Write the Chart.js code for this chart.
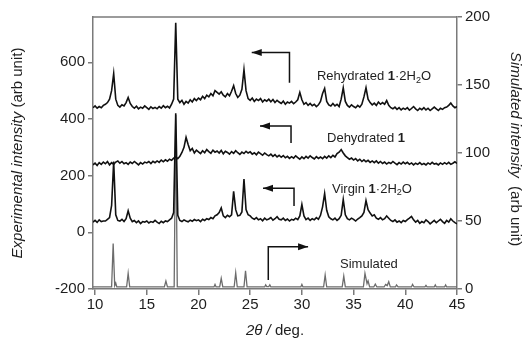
<!DOCTYPE html>
<html>
<head>
<meta charset="utf-8">
<script src="https://cdn.jsdelivr.net/npm/chart.js@4.4.0/dist/chart.umd.min.js"></script>
<style>
  body { margin: 0; background: #fff; }
  #wrap { width: 530px; height: 344px; }
</style>
</head>
<body>
<div id="wrap"><canvas id="xrd" width="530" height="344"></canvas></div>
<script>
// 2theta grid for the measured patterns
const twoThetaStart = 9.8;
const twoThetaStep = 0.2;

// measured patterns (left axis, arb unit), one row per degree
const rehydrated = [440,
  446, 438, 444, 440, 448,
  452, 458, 470, 500, 560,
  470, 448, 442, 450, 446,
  458, 476, 455, 444, 438,
  445, 436, 442, 438, 446,
  440, 434, 443, 437, 441,
  436, 444, 438, 447, 440,
  445, 439, 452, 470, 740,
  470, 458, 466, 452, 462,
  456, 468, 460, 472, 465,
  474, 468, 480, 472, 484,
  478, 490, 482, 500, 494,
  488, 496, 484, 478, 490,
  482, 498, 518, 490, 476,
  484, 505, 574, 500, 472,
  466, 474, 462, 470, 465,
  472, 460, 468, 463, 470,
  461, 469, 458, 466, 460,
  455, 463, 452, 460, 456,
  462, 454, 460, 468, 494,
  468, 452, 458, 448, 455,
  447, 452, 444, 450, 462,
  490, 508, 462, 450, 446,
  455, 446, 452, 444, 470,
  510, 462, 448, 442, 450,
  444, 440, 448, 442, 452,
  478, 510, 470, 458, 450,
  456, 448, 460, 452, 458,
  452, 465, 448, 440, 436,
  442, 434, 440, 432, 438,
  434, 440, 431, 437, 444,
  436, 430, 438, 433, 440,
  432, 438, 430, 436, 442,
  436, 430, 438, 434, 440,
  442, 448, 456, 446, 440,
  444];

const dehydrated = [238,
  244, 236, 246, 240, 248,
  242, 250, 238, 246, 240,
  248, 252, 244, 250, 242,
  246, 240, 248, 243, 250,
  244, 238, 246, 241, 248,
  245, 250, 243, 251, 246,
  252, 247, 255, 249, 256,
  251, 258, 254, 262, 266,
  260, 268, 282, 300, 335,
  310, 288, 296, 280, 290,
  284, 278, 288, 281, 292,
  285, 279, 290, 283, 287,
  280, 289, 277, 286, 282,
  276, 285, 279, 288, 281,
  275, 283, 278, 286, 280,
  284, 276, 281, 274, 283,
  278, 272, 280, 274, 270,
  276, 268, 274, 266, 272,
  265, 271, 263, 268, 261,
  267, 262, 270, 264, 258,
  266, 260, 268, 262, 270,
  264, 259, 267, 261, 266,
  260, 268, 262, 270, 264,
  272, 266, 278, 283, 292,
  280, 270, 264, 258, 262,
  255, 260, 252, 258, 250,
  256, 249, 254, 247, 252,
  246, 252, 244, 250, 243,
  248, 241, 247, 243, 250,
  244, 239, 246, 241, 248,
  242, 247, 240, 245, 238,
  244, 240, 246, 239, 243,
  238, 245, 240, 247, 241,
  243, 238, 245, 240, 246,
  241, 247, 240, 244, 249,
  243];

const virgin = [36,
  42, 35, 44, 38, 40,
  40, 46, 52, 95, 250,
  62, 42, 40, 46, 38,
  48, 76, 50, 38, 42,
  34, 40, 31, 38, 36,
  40, 33, 38, 35, 42,
  36, 31, 39, 34, 40,
  38, 44, 50, 70, 420,
  60, 42, 38, 44, 40,
  37, 43, 39, 45, 41,
  44, 38, 46, 42, 48,
  45, 52, 48, 58, 62,
  70, 86, 58, 52, 60,
  55, 62, 145, 80, 58,
  60, 72, 188, 80, 62,
  58, 50, 46, 52, 44,
  48, 41, 50, 44, 47,
  52, 43, 48, 55, 46,
  44, 50, 42, 47, 40,
  46, 43, 50, 45, 58,
  98, 58, 45, 50, 42,
  48, 44, 52, 46, 60,
  90, 137, 78, 55, 48,
  44, 50, 42, 48, 60,
  116, 62, 48, 44, 50,
  46, 40, 47, 52, 58,
  70, 112, 80, 68, 58,
  62, 50, 46, 52, 44,
  48, 58, 50, 42, 38,
  44, 36, 40, 34, 42,
  38, 45, 50, 56, 44,
  36, 42, 32, 38, 34,
  44, 38, 30, 36, 42,
  34, 40, 46, 38, 32,
  42, 36, 48, 40, 34,
  30];

// simulated pattern (right axis)
const simTwoTheta = [9.8, 11.6, 11.75, 11.9, 12.0, 12.1, 13.05, 13.2, 13.35, 16.7, 16.85, 17.0,
  17.65, 17.8, 17.95, 21.5, 21.6, 21.7, 22.05, 22.2, 22.35, 23.45, 23.6, 23.75, 24.4, 24.55, 24.7,
  26.4, 26.5, 26.6, 26.8, 26.9, 27.0, 29.9, 30.0, 30.1, 32.1, 32.25, 32.4, 33.9, 34.05, 34.2,
  35.95, 36.1, 36.3, 36.4, 36.55, 36.95, 37.1, 37.25, 37.95, 38.1, 38.25, 38.4, 38.55,
  39.05, 39.15, 39.3, 40.6, 40.7, 40.85, 41.9, 42.0, 42.1, 42.8, 42.9, 43.0, 43.8, 43.9, 44.0, 45.0];
const simIntensity = [1.5, 1.5, 33.5, 2.5, 4.4, 1.5, 1.5, 11.5, 1.5, 1.5, 5.9, 1.5,
  1.5, 128, 1.5, 1.5, 3.4, 1.5, 1.5, 7.8, 1.5, 1.5, 12, 1.5, 1.5, 13.4, 1.5,
  1.5, 3, 1.8, 1.8, 3, 1.5, 1.5, 3.4, 1.5, 1.5, 10.3, 1.5, 1.5, 9.5, 1.5,
  1.5, 11.5, 4, 6, 1.5, 1.5, 3.6, 1.5, 1.5, 3.4, 2.5, 5.4, 1.5,
  1.5, 3, 1.5, 1.5, 3.4, 1.5, 1.5, 2.6, 1.5, 1.5, 3, 1.5, 1.5, 3, 1.5, 1.5];

const xTicks = [10, 15, 20, 25, 30, 35, 40, 45];
const leftTicks = [-200, 0, 200, 400, 600];
const rightTicks = [0, 50, 100, 150, 200];

// annotations: arrows [x, y] in data units (left axis), label anchor + parts
const arrows = [
  { pts: [[28.8, 528], [28.8, 635], [25.15, 635]] },
  { pts: [[28.95, 315], [28.95, 375], [25.95, 375]] },
  { pts: [[29.24, 93], [29.24, 156], [26.24, 156]] },
  { pts: [[26.75, -168], [26.75, -51], [30.6, -51]] }
];
const labels = [
  { x: 31.46, y: 551, parts: [['Rehydrated ', ''], ['1', 'bold'], ['\u00b72H', ''], ['2', 'sub'], ['O', '']] },
  { x: 32.43, y: 333, parts: [['Dehydrated ', ''], ['1', 'bold']] },
  { x: 32.91, y: 153, parts: [['Virgin ', ''], ['1', 'bold'], ['\u00b72H', ''], ['2', 'sub'], ['O', '']] },
  { x: 33.69, y: -115, parts: [['Simulated', '']] }
];

const FONT = '"Liberation Sans", Arial, sans-serif';
const AXIS = '#7a7a7a';
const TEXT = '#1e1e1e';

function toPoints(ys) {
  return ys.map((y, i) => ({ x: +(twoThetaStart + i * twoThetaStep).toFixed(2), y: y }));
}

function fontFor(style, size) {
  if (style === 'bold') return 'bold ' + size + 'px ' + FONT;
  if (style === 'italic') return 'italic ' + size + 'px ' + FONT;
  if (style === 'sub') return Math.round(size * 0.7) + 'px ' + FONT;
  return size + 'px ' + FONT;
}

function richWidth(ctx, parts, size) {
  let w = 0;
  parts.forEach(p => { ctx.font = fontFor(p[1], size); w += ctx.measureText(p[0]).width; });
  return w;
}

function drawRich(ctx, x, y, parts, size) {
  ctx.textBaseline = 'middle';
  ctx.textAlign = 'left';
  parts.forEach(p => {
    ctx.font = fontFor(p[1], size);
    ctx.fillText(p[0], x, p[1] === 'sub' ? y + size * 0.3 : y);
    x += ctx.measureText(p[0]).width;
  });
}

const decorPlugin = {
  id: 'decor',
  afterDatasetsDraw(chart) {
    const ctx = chart.ctx;
    const a = chart.chartArea;
    const xs = chart.scales.x, ys = chart.scales.y;
    ctx.save();
    // top frame line
    ctx.strokeStyle = AXIS;
    ctx.lineWidth = 1.5;
    ctx.beginPath();
    ctx.moveTo(a.left, a.top);
    ctx.lineTo(a.right, a.top);
    ctx.stroke();

    // arrows
    ctx.strokeStyle = '#111';
    ctx.fillStyle = '#111';
    ctx.lineWidth = 1.5;
    arrows.forEach(ar => {
      const p = ar.pts.map(q => [xs.getPixelForValue(q[0]), ys.getPixelForValue(q[1])]);
      ctx.beginPath();
      ctx.moveTo(p[0][0], p[0][1]);
      for (let i = 1; i < p.length; i++) ctx.lineTo(p[i][0], p[i][1]);
      ctx.stroke();
      const tip = p[p.length - 1], prev = p[p.length - 2];
      const dir = Math.sign(tip[0] - prev[0]);
      ctx.beginPath();
      ctx.moveTo(tip[0], tip[1]);
      ctx.lineTo(tip[0] - dir * 10, tip[1] - 3.5);
      ctx.lineTo(tip[0] - dir * 10, tip[1] + 3.5);
      ctx.closePath();
      ctx.fill();
    });

    // series labels
    ctx.fillStyle = TEXT;
    labels.forEach(l => drawRich(ctx, xs.getPixelForValue(l.x), ys.getPixelForValue(l.y), l.parts, 13));

    // axis titles
    const midY = (a.top + a.bottom) / 2;
    const leftParts = [['Experimental intensity', 'italic'], [' (arb unit)', '']];
    ctx.save();
    ctx.translate(18, midY);
    ctx.rotate(-Math.PI / 2);
    drawRich(ctx, -richWidth(ctx, leftParts, 15) / 2, 0, leftParts, 15);
    ctx.restore();

    const rightParts = [['Simulated intensity', 'italic'], ['  (arb unit)', '']];
    ctx.save();
    ctx.translate(515, midY - 4);
    ctx.rotate(Math.PI / 2);
    drawRich(ctx, -richWidth(ctx, rightParts, 15) / 2, 0, rightParts, 15);
    ctx.restore();

    const xParts = [['2\u03b8 /', 'italic'], [' deg.', '']];
    drawRich(ctx, (a.left + a.right) / 2 - richWidth(ctx, xParts, 15) / 2, 331, xParts, 15);
    ctx.restore();
  }
};

function fixedTicks(values) {
  return scale => { scale.ticks = values.map(v => ({ value: v })); };
}

const gridOpts = { display: true, drawOnChartArea: false, drawTicks: true, tickLength: 5, color: AXIS, lineWidth: 1.5 };
const tickFont = { family: FONT, size: 15 };

new Chart(document.getElementById('xrd'), {
  type: 'line',
  data: {
    datasets: [
      { label: 'Rehydrated', data: toPoints(rehydrated), yAxisID: 'y', borderColor: '#111', borderWidth: 1.6 },
      { label: 'Dehydrated', data: toPoints(dehydrated), yAxisID: 'y', borderColor: '#111', borderWidth: 1.6 },
      { label: 'Virgin', data: toPoints(virgin), yAxisID: 'y', borderColor: '#111', borderWidth: 1.6 },
      { label: 'Simulated', data: simTwoTheta.map((x, i) => ({ x: x, y: simIntensity[i] })), yAxisID: 'y2', borderColor: '#6c6c6c', borderWidth: 1.3 }
    ]
  },
  options: {
    responsive: false,
    animation: false,
    events: [],
    layout: { padding: { top: 17, left: 0, right: 0, bottom: 0 } },
    elements: { point: { radius: 0 }, line: { tension: 0 } },
    plugins: { legend: { display: false }, tooltip: { enabled: false } },
    scales: {
      x: {
        type: 'linear', min: 9.8, max: 45,
        afterBuildTicks: fixedTicks(xTicks),
        afterFit: s => { s.height = 55; },
        grid: Object.assign({}, gridOpts, { tickLength: 6 }),
        border: { color: AXIS, width: 1.5 },
        ticks: { font: tickFont, color: TEXT, padding: 1, maxRotation: 0 }
      },
      y: {
        type: 'linear', position: 'left', min: -200, max: 760,
        afterBuildTicks: fixedTicks(leftTicks),
        afterFit: s => { s.width = 93; },
        grid: gridOpts,
        border: { color: AXIS, width: 1.5 },
        ticks: { font: tickFont, color: TEXT, padding: 3 }
      },
      y2: {
        type: 'linear', position: 'right', min: 0, max: 200,
        afterBuildTicks: fixedTicks(rightTicks),
        afterFit: s => { s.width = 73; },
        grid: gridOpts,
        border: { color: AXIS, width: 1.5 },
        ticks: { font: tickFont, color: TEXT, padding: 3 }
      }
    }
  },
  plugins: [decorPlugin]
});
</script>
</body>
</html>
